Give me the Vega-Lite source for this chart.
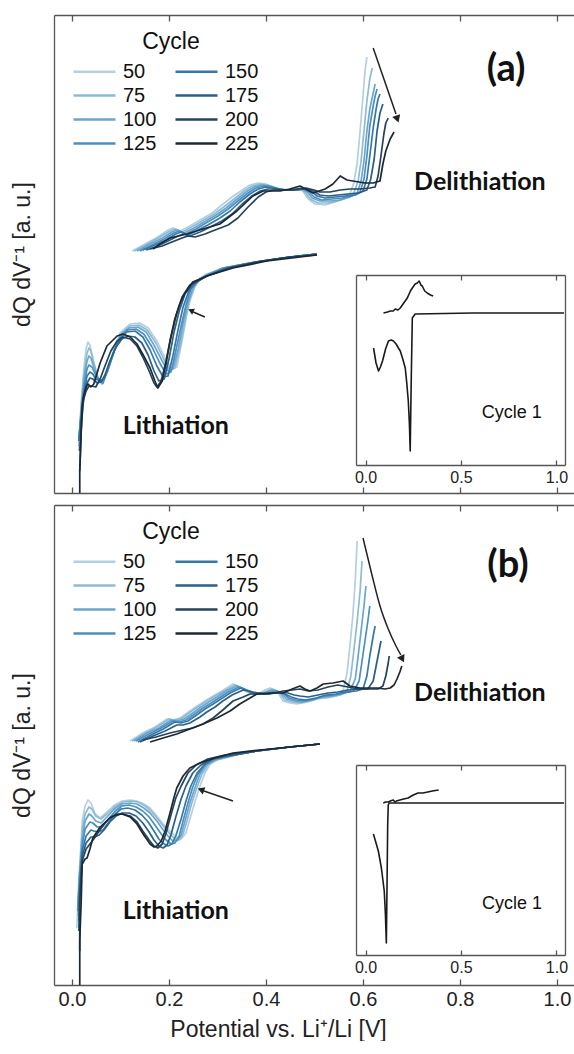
{
"$schema":"https://vega.github.io/schema/vega-lite/v6.json",
"background":"white",
"padding":{"left":11,"top":14,"right":0,"bottom":0},
"config":{"font":"Liberation Sans","view":{"stroke":null},"axis":{"grid":false,"domainColor":"#555","tickColor":"#555","domainWidth":1.3,"tickWidth":1.3,"labelColor":"#222","titleColor":"#222","titleFontWeight":"normal","labelFlush":false,"labelFont":"Liberation Sans","titleFont":"Liberation Sans"}},
"datasets":{
"main":[
{"p":"a","k":"d","c":50,"x":0.124,"y":242},{"p":"a","k":"d","c":50,"x":0.151,"y":249},{"p":"a","k":"d","c":50,"x":0.177,"y":256},{"p":"a","k":"d","c":50,"x":0.198,"y":263},{"p":"a","k":"d","c":50,"x":0.208,"y":265},{"p":"a","k":"d","c":50,"x":0.223,"y":262},{"p":"a","k":"d","c":50,"x":0.243,"y":267},{"p":"a","k":"d","c":50,"x":0.264,"y":273},{"p":"a","k":"d","c":50,"x":0.289,"y":280},{"p":"a","k":"d","c":50,"x":0.309,"y":288},{"p":"a","k":"d","c":50,"x":0.330,"y":296},{"p":"a","k":"d","c":50,"x":0.351,"y":303},{"p":"a","k":"d","c":50,"x":0.367,"y":308},{"p":"a","k":"d","c":50,"x":0.384,"y":310},{"p":"a","k":"d","c":50,"x":0.400,"y":309},{"p":"a","k":"d","c":50,"x":0.412,"y":306},{"p":"a","k":"d","c":50,"x":0.429,"y":303},{"p":"a","k":"d","c":50,"x":0.449,"y":303},{"p":"a","k":"d","c":50,"x":0.466,"y":305},{"p":"a","k":"d","c":50,"x":0.476,"y":302},{"p":"a","k":"d","c":50,"x":0.487,"y":294},{"p":"a","k":"d","c":50,"x":0.501,"y":289},{"p":"a","k":"d","c":50,"x":0.522,"y":288},{"p":"a","k":"d","c":50,"x":0.542,"y":291},{"p":"a","k":"d","c":50,"x":0.557,"y":294},{"p":"a","k":"d","c":50,"x":0.573,"y":299},{"p":"a","k":"d","c":50,"x":0.581,"y":310},{"p":"a","k":"d","c":50,"x":0.588,"y":330},{"p":"a","k":"d","c":50,"x":0.594,"y":362},{"p":"a","k":"d","c":50,"x":0.600,"y":397},{"p":"a","k":"d","c":50,"x":0.604,"y":422},{"p":"a","k":"d","c":50,"x":0.608,"y":436},
{"p":"a","k":"d","c":75,"x":0.128,"y":242},{"p":"a","k":"d","c":75,"x":0.155,"y":249},{"p":"a","k":"d","c":75,"x":0.181,"y":256},{"p":"a","k":"d","c":75,"x":0.202,"y":262},{"p":"a","k":"d","c":75,"x":0.212,"y":264},{"p":"a","k":"d","c":75,"x":0.227,"y":261},{"p":"a","k":"d","c":75,"x":0.247,"y":266},{"p":"a","k":"d","c":75,"x":0.268,"y":272},{"p":"a","k":"d","c":75,"x":0.293,"y":279},{"p":"a","k":"d","c":75,"x":0.313,"y":286},{"p":"a","k":"d","c":75,"x":0.334,"y":294},{"p":"a","k":"d","c":75,"x":0.355,"y":302},{"p":"a","k":"d","c":75,"x":0.371,"y":307},{"p":"a","k":"d","c":75,"x":0.388,"y":309},{"p":"a","k":"d","c":75,"x":0.404,"y":308},{"p":"a","k":"d","c":75,"x":0.416,"y":306},{"p":"a","k":"d","c":75,"x":0.433,"y":303},{"p":"a","k":"d","c":75,"x":0.454,"y":303},{"p":"a","k":"d","c":75,"x":0.470,"y":305},{"p":"a","k":"d","c":75,"x":0.480,"y":301},{"p":"a","k":"d","c":75,"x":0.491,"y":294},{"p":"a","k":"d","c":75,"x":0.507,"y":290},{"p":"a","k":"d","c":75,"x":0.528,"y":290},{"p":"a","k":"d","c":75,"x":0.548,"y":292},{"p":"a","k":"d","c":75,"x":0.565,"y":295},{"p":"a","k":"d","c":75,"x":0.581,"y":300},{"p":"a","k":"d","c":75,"x":0.590,"y":312},{"p":"a","k":"d","c":75,"x":0.596,"y":332},{"p":"a","k":"d","c":75,"x":0.602,"y":362},{"p":"a","k":"d","c":75,"x":0.608,"y":392},{"p":"a","k":"d","c":75,"x":0.614,"y":414},{"p":"a","k":"d","c":75,"x":0.619,"y":425},
{"p":"a","k":"d","c":100,"x":0.134,"y":242},{"p":"a","k":"d","c":100,"x":0.161,"y":249},{"p":"a","k":"d","c":100,"x":0.186,"y":255},{"p":"a","k":"d","c":100,"x":0.206,"y":261},{"p":"a","k":"d","c":100,"x":0.216,"y":263},{"p":"a","k":"d","c":100,"x":0.231,"y":260},{"p":"a","k":"d","c":100,"x":0.252,"y":265},{"p":"a","k":"d","c":100,"x":0.272,"y":271},{"p":"a","k":"d","c":100,"x":0.297,"y":278},{"p":"a","k":"d","c":100,"x":0.318,"y":285},{"p":"a","k":"d","c":100,"x":0.338,"y":293},{"p":"a","k":"d","c":100,"x":0.359,"y":301},{"p":"a","k":"d","c":100,"x":0.375,"y":306},{"p":"a","k":"d","c":100,"x":0.392,"y":308},{"p":"a","k":"d","c":100,"x":0.408,"y":307},{"p":"a","k":"d","c":100,"x":0.421,"y":305},{"p":"a","k":"d","c":100,"x":0.437,"y":303},{"p":"a","k":"d","c":100,"x":0.458,"y":303},{"p":"a","k":"d","c":100,"x":0.474,"y":304},{"p":"a","k":"d","c":100,"x":0.485,"y":301},{"p":"a","k":"d","c":100,"x":0.495,"y":295},{"p":"a","k":"d","c":100,"x":0.511,"y":292},{"p":"a","k":"d","c":100,"x":0.532,"y":292},{"p":"a","k":"d","c":100,"x":0.553,"y":293},{"p":"a","k":"d","c":100,"x":0.573,"y":296},{"p":"a","k":"d","c":100,"x":0.588,"y":300},{"p":"a","k":"d","c":100,"x":0.596,"y":312},{"p":"a","k":"d","c":100,"x":0.602,"y":332},{"p":"a","k":"d","c":100,"x":0.608,"y":362},{"p":"a","k":"d","c":100,"x":0.614,"y":384},{"p":"a","k":"d","c":100,"x":0.621,"y":400},{"p":"a","k":"d","c":100,"x":0.625,"y":409},
{"p":"a","k":"d","c":125,"x":0.140,"y":242},{"p":"a","k":"d","c":125,"x":0.165,"y":248},{"p":"a","k":"d","c":125,"x":0.190,"y":254},{"p":"a","k":"d","c":125,"x":0.210,"y":260},{"p":"a","k":"d","c":125,"x":0.221,"y":262},{"p":"a","k":"d","c":125,"x":0.235,"y":259},{"p":"a","k":"d","c":125,"x":0.256,"y":264},{"p":"a","k":"d","c":125,"x":0.276,"y":270},{"p":"a","k":"d","c":125,"x":0.301,"y":277},{"p":"a","k":"d","c":125,"x":0.322,"y":284},{"p":"a","k":"d","c":125,"x":0.342,"y":292},{"p":"a","k":"d","c":125,"x":0.363,"y":300},{"p":"a","k":"d","c":125,"x":0.379,"y":305},{"p":"a","k":"d","c":125,"x":0.396,"y":307},{"p":"a","k":"d","c":125,"x":0.412,"y":306},{"p":"a","k":"d","c":125,"x":0.425,"y":304},{"p":"a","k":"d","c":125,"x":0.441,"y":303},{"p":"a","k":"d","c":125,"x":0.462,"y":303},{"p":"a","k":"d","c":125,"x":0.478,"y":304},{"p":"a","k":"d","c":125,"x":0.489,"y":301},{"p":"a","k":"d","c":125,"x":0.499,"y":296},{"p":"a","k":"d","c":125,"x":0.515,"y":293},{"p":"a","k":"d","c":125,"x":0.536,"y":294},{"p":"a","k":"d","c":125,"x":0.557,"y":295},{"p":"a","k":"d","c":125,"x":0.577,"y":297},{"p":"a","k":"d","c":125,"x":0.594,"y":301},{"p":"a","k":"d","c":125,"x":0.602,"y":314},{"p":"a","k":"d","c":125,"x":0.608,"y":337},{"p":"a","k":"d","c":125,"x":0.614,"y":367},{"p":"a","k":"d","c":125,"x":0.621,"y":387},{"p":"a","k":"d","c":125,"x":0.625,"y":397},{"p":"a","k":"d","c":125,"x":0.629,"y":404},
{"p":"a","k":"d","c":150,"x":0.146,"y":243},{"p":"a","k":"d","c":150,"x":0.171,"y":248},{"p":"a","k":"d","c":150,"x":0.194,"y":253},{"p":"a","k":"d","c":150,"x":0.214,"y":259},{"p":"a","k":"d","c":150,"x":0.225,"y":261},{"p":"a","k":"d","c":150,"x":0.239,"y":258},{"p":"a","k":"d","c":150,"x":0.260,"y":263},{"p":"a","k":"d","c":150,"x":0.280,"y":268},{"p":"a","k":"d","c":150,"x":0.305,"y":275},{"p":"a","k":"d","c":150,"x":0.326,"y":282},{"p":"a","k":"d","c":150,"x":0.346,"y":291},{"p":"a","k":"d","c":150,"x":0.367,"y":299},{"p":"a","k":"d","c":150,"x":0.384,"y":304},{"p":"a","k":"d","c":150,"x":0.400,"y":306},{"p":"a","k":"d","c":150,"x":0.416,"y":305},{"p":"a","k":"d","c":150,"x":0.429,"y":304},{"p":"a","k":"d","c":150,"x":0.445,"y":303},{"p":"a","k":"d","c":150,"x":0.466,"y":303},{"p":"a","k":"d","c":150,"x":0.482,"y":304},{"p":"a","k":"d","c":150,"x":0.493,"y":302},{"p":"a","k":"d","c":150,"x":0.505,"y":297},{"p":"a","k":"d","c":150,"x":0.522,"y":295},{"p":"a","k":"d","c":150,"x":0.542,"y":296},{"p":"a","k":"d","c":150,"x":0.563,"y":297},{"p":"a","k":"d","c":150,"x":0.584,"y":298},{"p":"a","k":"d","c":150,"x":0.600,"y":302},{"p":"a","k":"d","c":150,"x":0.608,"y":314},{"p":"a","k":"d","c":150,"x":0.614,"y":337},{"p":"a","k":"d","c":150,"x":0.621,"y":365},{"p":"a","k":"d","c":150,"x":0.627,"y":384},{"p":"a","k":"d","c":150,"x":0.631,"y":394},{"p":"a","k":"d","c":150,"x":0.635,"y":399},
{"p":"a","k":"d","c":175,"x":0.153,"y":243},{"p":"a","k":"d","c":175,"x":0.177,"y":247},{"p":"a","k":"d","c":175,"x":0.198,"y":252},{"p":"a","k":"d","c":175,"x":0.219,"y":257},{"p":"a","k":"d","c":175,"x":0.229,"y":259},{"p":"a","k":"d","c":175,"x":0.243,"y":257},{"p":"a","k":"d","c":175,"x":0.264,"y":261},{"p":"a","k":"d","c":175,"x":0.285,"y":266},{"p":"a","k":"d","c":175,"x":0.309,"y":272},{"p":"a","k":"d","c":175,"x":0.330,"y":279},{"p":"a","k":"d","c":175,"x":0.351,"y":289},{"p":"a","k":"d","c":175,"x":0.371,"y":297},{"p":"a","k":"d","c":175,"x":0.388,"y":302},{"p":"a","k":"d","c":175,"x":0.404,"y":304},{"p":"a","k":"d","c":175,"x":0.421,"y":304},{"p":"a","k":"d","c":175,"x":0.437,"y":303},{"p":"a","k":"d","c":175,"x":0.454,"y":303},{"p":"a","k":"d","c":175,"x":0.470,"y":304},{"p":"a","k":"d","c":175,"x":0.487,"y":304},{"p":"a","k":"d","c":175,"x":0.497,"y":302},{"p":"a","k":"d","c":175,"x":0.511,"y":298},{"p":"a","k":"d","c":175,"x":0.528,"y":297},{"p":"a","k":"d","c":175,"x":0.548,"y":298},{"p":"a","k":"d","c":175,"x":0.569,"y":299},{"p":"a","k":"d","c":175,"x":0.590,"y":300},{"p":"a","k":"d","c":175,"x":0.608,"y":303},{"p":"a","k":"d","c":175,"x":0.616,"y":314},{"p":"a","k":"d","c":175,"x":0.623,"y":334},{"p":"a","k":"d","c":175,"x":0.629,"y":362},{"p":"a","k":"d","c":175,"x":0.635,"y":380},{"p":"a","k":"d","c":175,"x":0.641,"y":389},
{"p":"a","k":"d","c":200,"x":0.161,"y":244},{"p":"a","k":"d","c":200,"x":0.186,"y":247},{"p":"a","k":"d","c":200,"x":0.206,"y":251},{"p":"a","k":"d","c":200,"x":0.227,"y":255},{"p":"a","k":"d","c":200,"x":0.239,"y":257},{"p":"a","k":"d","c":200,"x":0.254,"y":256},{"p":"a","k":"d","c":200,"x":0.274,"y":259},{"p":"a","k":"d","c":200,"x":0.295,"y":263},{"p":"a","k":"d","c":200,"x":0.322,"y":268},{"p":"a","k":"d","c":200,"x":0.342,"y":275},{"p":"a","k":"d","c":200,"x":0.363,"y":286},{"p":"a","k":"d","c":200,"x":0.384,"y":296},{"p":"a","k":"d","c":200,"x":0.400,"y":301},{"p":"a","k":"d","c":200,"x":0.416,"y":303},{"p":"a","k":"d","c":200,"x":0.433,"y":303},{"p":"a","k":"d","c":200,"x":0.449,"y":303},{"p":"a","k":"d","c":200,"x":0.466,"y":304},{"p":"a","k":"d","c":200,"x":0.482,"y":305},{"p":"a","k":"d","c":200,"x":0.499,"y":303},{"p":"a","k":"d","c":200,"x":0.511,"y":301},{"p":"a","k":"d","c":200,"x":0.532,"y":301},{"p":"a","k":"d","c":200,"x":0.553,"y":303},{"p":"a","k":"d","c":200,"x":0.573,"y":304},{"p":"a","k":"d","c":200,"x":0.594,"y":304},{"p":"a","k":"d","c":200,"x":0.614,"y":305},{"p":"a","k":"d","c":200,"x":0.625,"y":306},{"p":"a","k":"d","c":200,"x":0.631,"y":317},{"p":"a","k":"d","c":200,"x":0.637,"y":337},{"p":"a","k":"d","c":200,"x":0.643,"y":359},{"p":"a","k":"d","c":200,"x":0.647,"y":370},{"p":"a","k":"d","c":200,"x":0.652,"y":375},
{"p":"a","k":"d","c":225,"x":0.167,"y":244},{"p":"a","k":"d","c":225,"x":0.181,"y":249},{"p":"a","k":"d","c":225,"x":0.202,"y":255},{"p":"a","k":"d","c":225,"x":0.237,"y":259},{"p":"a","k":"d","c":225,"x":0.270,"y":264},{"p":"a","k":"d","c":225,"x":0.305,"y":269},{"p":"a","k":"d","c":225,"x":0.340,"y":282},{"p":"a","k":"d","c":225,"x":0.373,"y":297},{"p":"a","k":"d","c":225,"x":0.394,"y":302},{"p":"a","k":"d","c":225,"x":0.429,"y":302},{"p":"a","k":"d","c":225,"x":0.449,"y":304},{"p":"a","k":"d","c":225,"x":0.470,"y":307},{"p":"a","k":"d","c":225,"x":0.497,"y":300},{"p":"a","k":"d","c":225,"x":0.522,"y":304},{"p":"a","k":"d","c":225,"x":0.538,"y":309},{"p":"a","k":"d","c":225,"x":0.553,"y":317},{"p":"a","k":"d","c":225,"x":0.567,"y":313},{"p":"a","k":"d","c":225,"x":0.579,"y":312},{"p":"a","k":"d","c":225,"x":0.604,"y":310},{"p":"a","k":"d","c":225,"x":0.621,"y":310},{"p":"a","k":"d","c":225,"x":0.635,"y":312},{"p":"a","k":"d","c":225,"x":0.641,"y":329},{"p":"a","k":"d","c":225,"x":0.647,"y":342},{"p":"a","k":"d","c":225,"x":0.656,"y":354},{"p":"a","k":"d","c":225,"x":0.664,"y":361},
{"p":"a","k":"l","c":50,"x":0.014,"y":42},{"p":"a","k":"l","c":50,"x":0.019,"y":92},{"p":"a","k":"l","c":50,"x":0.025,"y":127},{"p":"a","k":"l","c":50,"x":0.029,"y":144},{"p":"a","k":"l","c":50,"x":0.033,"y":151},{"p":"a","k":"l","c":50,"x":0.037,"y":148},{"p":"a","k":"l","c":50,"x":0.043,"y":134},{"p":"a","k":"l","c":50,"x":0.052,"y":117},{"p":"a","k":"l","c":50,"x":0.062,"y":109},{"p":"a","k":"l","c":50,"x":0.072,"y":120},{"p":"a","k":"l","c":50,"x":0.085,"y":142},{"p":"a","k":"l","c":50,"x":0.099,"y":160},{"p":"a","k":"l","c":50,"x":0.120,"y":169},{"p":"a","k":"l","c":50,"x":0.140,"y":170},{"p":"a","k":"l","c":50,"x":0.157,"y":165},{"p":"a","k":"l","c":50,"x":0.175,"y":152},{"p":"a","k":"l","c":50,"x":0.192,"y":135},{"p":"a","k":"l","c":50,"x":0.206,"y":124},{"p":"a","k":"l","c":50,"x":0.216,"y":126},{"p":"a","k":"l","c":50,"x":0.227,"y":152},{"p":"a","k":"l","c":50,"x":0.235,"y":174},{"p":"a","k":"l","c":50,"x":0.243,"y":192},{"p":"a","k":"l","c":50,"x":0.254,"y":207},{"p":"a","k":"l","c":50,"x":0.264,"y":215},{"p":"a","k":"l","c":50,"x":0.278,"y":219},{"p":"a","k":"l","c":50,"x":0.311,"y":225},{"p":"a","k":"l","c":50,"x":0.367,"y":230},{"p":"a","k":"l","c":50,"x":0.435,"y":235},{"p":"a","k":"l","c":50,"x":0.505,"y":239},
{"p":"a","k":"l","c":75,"x":0.014,"y":47},{"p":"a","k":"l","c":75,"x":0.019,"y":87},{"p":"a","k":"l","c":75,"x":0.025,"y":120},{"p":"a","k":"l","c":75,"x":0.031,"y":140},{"p":"a","k":"l","c":75,"x":0.035,"y":145},{"p":"a","k":"l","c":75,"x":0.039,"y":142},{"p":"a","k":"l","c":75,"x":0.045,"y":130},{"p":"a","k":"l","c":75,"x":0.054,"y":115},{"p":"a","k":"l","c":75,"x":0.062,"y":109},{"p":"a","k":"l","c":75,"x":0.074,"y":122},{"p":"a","k":"l","c":75,"x":0.087,"y":142},{"p":"a","k":"l","c":75,"x":0.101,"y":159},{"p":"a","k":"l","c":75,"x":0.120,"y":167},{"p":"a","k":"l","c":75,"x":0.138,"y":168},{"p":"a","k":"l","c":75,"x":0.155,"y":163},{"p":"a","k":"l","c":75,"x":0.173,"y":150},{"p":"a","k":"l","c":75,"x":0.190,"y":133},{"p":"a","k":"l","c":75,"x":0.202,"y":123},{"p":"a","k":"l","c":75,"x":0.212,"y":125},{"p":"a","k":"l","c":75,"x":0.223,"y":147},{"p":"a","k":"l","c":75,"x":0.233,"y":172},{"p":"a","k":"l","c":75,"x":0.241,"y":191},{"p":"a","k":"l","c":75,"x":0.252,"y":206},{"p":"a","k":"l","c":75,"x":0.264,"y":214},{"p":"a","k":"l","c":75,"x":0.278,"y":218},{"p":"a","k":"l","c":75,"x":0.311,"y":225},{"p":"a","k":"l","c":75,"x":0.367,"y":230},{"p":"a","k":"l","c":75,"x":0.435,"y":235},{"p":"a","k":"l","c":75,"x":0.505,"y":239},
{"p":"a","k":"l","c":100,"x":0.014,"y":52},{"p":"a","k":"l","c":100,"x":0.019,"y":82},{"p":"a","k":"l","c":100,"x":0.025,"y":114},{"p":"a","k":"l","c":100,"x":0.031,"y":132},{"p":"a","k":"l","c":100,"x":0.035,"y":137},{"p":"a","k":"l","c":100,"x":0.039,"y":135},{"p":"a","k":"l","c":100,"x":0.045,"y":126},{"p":"a","k":"l","c":100,"x":0.054,"y":114},{"p":"a","k":"l","c":100,"x":0.062,"y":110},{"p":"a","k":"l","c":100,"x":0.074,"y":123},{"p":"a","k":"l","c":100,"x":0.087,"y":142},{"p":"a","k":"l","c":100,"x":0.101,"y":158},{"p":"a","k":"l","c":100,"x":0.118,"y":165},{"p":"a","k":"l","c":100,"x":0.136,"y":166},{"p":"a","k":"l","c":100,"x":0.153,"y":161},{"p":"a","k":"l","c":100,"x":0.169,"y":148},{"p":"a","k":"l","c":100,"x":0.186,"y":132},{"p":"a","k":"l","c":100,"x":0.198,"y":122},{"p":"a","k":"l","c":100,"x":0.208,"y":124},{"p":"a","k":"l","c":100,"x":0.219,"y":144},{"p":"a","k":"l","c":100,"x":0.229,"y":170},{"p":"a","k":"l","c":100,"x":0.239,"y":190},{"p":"a","k":"l","c":100,"x":0.249,"y":205},{"p":"a","k":"l","c":100,"x":0.262,"y":213},{"p":"a","k":"l","c":100,"x":0.278,"y":218},{"p":"a","k":"l","c":100,"x":0.311,"y":225},{"p":"a","k":"l","c":100,"x":0.367,"y":230},{"p":"a","k":"l","c":100,"x":0.435,"y":235},{"p":"a","k":"l","c":100,"x":0.505,"y":239},
{"p":"a","k":"l","c":125,"x":0.014,"y":54},{"p":"a","k":"l","c":125,"x":0.019,"y":80},{"p":"a","k":"l","c":125,"x":0.025,"y":108},{"p":"a","k":"l","c":125,"x":0.031,"y":124},{"p":"a","k":"l","c":125,"x":0.035,"y":128},{"p":"a","k":"l","c":125,"x":0.041,"y":126},{"p":"a","k":"l","c":125,"x":0.047,"y":120},{"p":"a","k":"l","c":125,"x":0.056,"y":112},{"p":"a","k":"l","c":125,"x":0.064,"y":110},{"p":"a","k":"l","c":125,"x":0.074,"y":124},{"p":"a","k":"l","c":125,"x":0.087,"y":142},{"p":"a","k":"l","c":125,"x":0.099,"y":156},{"p":"a","k":"l","c":125,"x":0.115,"y":163},{"p":"a","k":"l","c":125,"x":0.132,"y":164},{"p":"a","k":"l","c":125,"x":0.148,"y":159},{"p":"a","k":"l","c":125,"x":0.165,"y":146},{"p":"a","k":"l","c":125,"x":0.181,"y":130},{"p":"a","k":"l","c":125,"x":0.194,"y":119},{"p":"a","k":"l","c":125,"x":0.204,"y":121},{"p":"a","k":"l","c":125,"x":0.214,"y":142},{"p":"a","k":"l","c":125,"x":0.225,"y":167},{"p":"a","k":"l","c":125,"x":0.235,"y":188},{"p":"a","k":"l","c":125,"x":0.245,"y":204},{"p":"a","k":"l","c":125,"x":0.260,"y":212},{"p":"a","k":"l","c":125,"x":0.278,"y":218},{"p":"a","k":"l","c":125,"x":0.315,"y":225},{"p":"a","k":"l","c":125,"x":0.367,"y":230},{"p":"a","k":"l","c":125,"x":0.435,"y":235},{"p":"a","k":"l","c":125,"x":0.505,"y":239},
{"p":"a","k":"l","c":150,"x":0.014,"y":52},{"p":"a","k":"l","c":150,"x":0.019,"y":77},{"p":"a","k":"l","c":150,"x":0.025,"y":102},{"p":"a","k":"l","c":150,"x":0.031,"y":117},{"p":"a","k":"l","c":150,"x":0.037,"y":121},{"p":"a","k":"l","c":150,"x":0.043,"y":119},{"p":"a","k":"l","c":150,"x":0.049,"y":114},{"p":"a","k":"l","c":150,"x":0.058,"y":112},{"p":"a","k":"l","c":150,"x":0.066,"y":114},{"p":"a","k":"l","c":150,"x":0.076,"y":127},{"p":"a","k":"l","c":150,"x":0.087,"y":142},{"p":"a","k":"l","c":150,"x":0.099,"y":154},{"p":"a","k":"l","c":150,"x":0.113,"y":161},{"p":"a","k":"l","c":150,"x":0.130,"y":162},{"p":"a","k":"l","c":150,"x":0.146,"y":156},{"p":"a","k":"l","c":150,"x":0.161,"y":143},{"p":"a","k":"l","c":150,"x":0.175,"y":127},{"p":"a","k":"l","c":150,"x":0.188,"y":116},{"p":"a","k":"l","c":150,"x":0.198,"y":117},{"p":"a","k":"l","c":150,"x":0.208,"y":137},{"p":"a","k":"l","c":150,"x":0.219,"y":164},{"p":"a","k":"l","c":150,"x":0.229,"y":186},{"p":"a","k":"l","c":150,"x":0.241,"y":202},{"p":"a","k":"l","c":150,"x":0.256,"y":211},{"p":"a","k":"l","c":150,"x":0.278,"y":217},{"p":"a","k":"l","c":150,"x":0.318,"y":225},{"p":"a","k":"l","c":150,"x":0.377,"y":231},{"p":"a","k":"l","c":150,"x":0.449,"y":236},{"p":"a","k":"l","c":150,"x":0.505,"y":239},
{"p":"a","k":"l","c":175,"x":0.016,"y":42},{"p":"a","k":"l","c":175,"x":0.019,"y":72},{"p":"a","k":"l","c":175,"x":0.025,"y":97},{"p":"a","k":"l","c":175,"x":0.031,"y":110},{"p":"a","k":"l","c":175,"x":0.037,"y":115},{"p":"a","k":"l","c":175,"x":0.043,"y":114},{"p":"a","k":"l","c":175,"x":0.052,"y":110},{"p":"a","k":"l","c":175,"x":0.060,"y":111},{"p":"a","k":"l","c":175,"x":0.068,"y":118},{"p":"a","k":"l","c":175,"x":0.078,"y":132},{"p":"a","k":"l","c":175,"x":0.091,"y":146},{"p":"a","k":"l","c":175,"x":0.103,"y":154},{"p":"a","k":"l","c":175,"x":0.115,"y":157},{"p":"a","k":"l","c":175,"x":0.130,"y":156},{"p":"a","k":"l","c":175,"x":0.144,"y":150},{"p":"a","k":"l","c":175,"x":0.157,"y":138},{"p":"a","k":"l","c":175,"x":0.169,"y":122},{"p":"a","k":"l","c":175,"x":0.179,"y":112},{"p":"a","k":"l","c":175,"x":0.190,"y":114},{"p":"a","k":"l","c":175,"x":0.200,"y":134},{"p":"a","k":"l","c":175,"x":0.210,"y":160},{"p":"a","k":"l","c":175,"x":0.221,"y":182},{"p":"a","k":"l","c":175,"x":0.233,"y":199},{"p":"a","k":"l","c":175,"x":0.249,"y":209},{"p":"a","k":"l","c":175,"x":0.278,"y":217},{"p":"a","k":"l","c":175,"x":0.322,"y":225},{"p":"a","k":"l","c":175,"x":0.384,"y":231},{"p":"a","k":"l","c":175,"x":0.449,"y":236},{"p":"a","k":"l","c":175,"x":0.505,"y":239},
{"p":"a","k":"l","c":200,"x":0.016,"y":22},{"p":"a","k":"l","c":200,"x":0.019,"y":62},{"p":"a","k":"l","c":200,"x":0.023,"y":92},{"p":"a","k":"l","c":200,"x":0.029,"y":102},{"p":"a","k":"l","c":200,"x":0.035,"y":107},{"p":"a","k":"l","c":200,"x":0.041,"y":107},{"p":"a","k":"l","c":200,"x":0.049,"y":106},{"p":"a","k":"l","c":200,"x":0.058,"y":114},{"p":"a","k":"l","c":200,"x":0.068,"y":127},{"p":"a","k":"l","c":200,"x":0.080,"y":142},{"p":"a","k":"l","c":200,"x":0.093,"y":152},{"p":"a","k":"l","c":200,"x":0.105,"y":156},{"p":"a","k":"l","c":200,"x":0.120,"y":154},{"p":"a","k":"l","c":200,"x":0.134,"y":147},{"p":"a","k":"l","c":200,"x":0.146,"y":136},{"p":"a","k":"l","c":200,"x":0.159,"y":122},{"p":"a","k":"l","c":200,"x":0.169,"y":110},{"p":"a","k":"l","c":200,"x":0.175,"y":106},{"p":"a","k":"l","c":200,"x":0.184,"y":112},{"p":"a","k":"l","c":200,"x":0.194,"y":132},{"p":"a","k":"l","c":200,"x":0.204,"y":156},{"p":"a","k":"l","c":200,"x":0.216,"y":180},{"p":"a","k":"l","c":200,"x":0.227,"y":196},{"p":"a","k":"l","c":200,"x":0.243,"y":208},{"p":"a","k":"l","c":200,"x":0.278,"y":217},{"p":"a","k":"l","c":200,"x":0.326,"y":225},{"p":"a","k":"l","c":200,"x":0.392,"y":232},{"p":"a","k":"l","c":200,"x":0.449,"y":236},{"p":"a","k":"l","c":200,"x":0.505,"y":238},
{"p":"a","k":"l","c":225,"x":0.016,"y":0},{"p":"a","k":"l","c":225,"x":0.016,"y":22},{"p":"a","k":"l","c":225,"x":0.019,"y":62},{"p":"a","k":"l","c":225,"x":0.021,"y":87},{"p":"a","k":"l","c":225,"x":0.023,"y":95},{"p":"a","k":"l","c":225,"x":0.029,"y":106},{"p":"a","k":"l","c":225,"x":0.033,"y":109},{"p":"a","k":"l","c":225,"x":0.039,"y":106},{"p":"a","k":"l","c":225,"x":0.045,"y":109},{"p":"a","k":"l","c":225,"x":0.058,"y":130},{"p":"a","k":"l","c":225,"x":0.072,"y":147},{"p":"a","k":"l","c":225,"x":0.093,"y":157},{"p":"a","k":"l","c":225,"x":0.105,"y":159},{"p":"a","k":"l","c":225,"x":0.120,"y":156},{"p":"a","k":"l","c":225,"x":0.134,"y":149},{"p":"a","k":"l","c":225,"x":0.148,"y":137},{"p":"a","k":"l","c":225,"x":0.161,"y":125},{"p":"a","k":"l","c":225,"x":0.171,"y":112},{"p":"a","k":"l","c":225,"x":0.177,"y":105},{"p":"a","k":"l","c":225,"x":0.186,"y":112},{"p":"a","k":"l","c":225,"x":0.194,"y":130},{"p":"a","k":"l","c":225,"x":0.202,"y":152},{"p":"a","k":"l","c":225,"x":0.212,"y":174},{"p":"a","k":"l","c":225,"x":0.223,"y":190},{"p":"a","k":"l","c":225,"x":0.233,"y":200},{"p":"a","k":"l","c":225,"x":0.249,"y":211},{"p":"a","k":"l","c":225,"x":0.278,"y":217},{"p":"a","k":"l","c":225,"x":0.332,"y":225},{"p":"a","k":"l","c":225,"x":0.402,"y":232},{"p":"a","k":"l","c":225,"x":0.505,"y":238},
{"p":"b","k":"d","c":50,"x":0.120,"y":244},{"p":"b","k":"d","c":50,"x":0.146,"y":252},{"p":"b","k":"d","c":50,"x":0.171,"y":258},{"p":"b","k":"d","c":50,"x":0.196,"y":266},{"p":"b","k":"d","c":50,"x":0.208,"y":265},{"p":"b","k":"d","c":50,"x":0.223,"y":267},{"p":"b","k":"d","c":50,"x":0.243,"y":274},{"p":"b","k":"d","c":50,"x":0.258,"y":279},{"p":"b","k":"d","c":50,"x":0.274,"y":284},{"p":"b","k":"d","c":50,"x":0.291,"y":289},{"p":"b","k":"d","c":50,"x":0.309,"y":294},{"p":"b","k":"d","c":50,"x":0.332,"y":301},{"p":"b","k":"d","c":50,"x":0.342,"y":299},{"p":"b","k":"d","c":50,"x":0.357,"y":294},{"p":"b","k":"d","c":50,"x":0.367,"y":292},{"p":"b","k":"d","c":50,"x":0.384,"y":291},{"p":"b","k":"d","c":50,"x":0.398,"y":295},{"p":"b","k":"d","c":50,"x":0.408,"y":297},{"p":"b","k":"d","c":50,"x":0.423,"y":294},{"p":"b","k":"d","c":50,"x":0.435,"y":284},{"p":"b","k":"d","c":50,"x":0.449,"y":282},{"p":"b","k":"d","c":50,"x":0.464,"y":281},{"p":"b","k":"d","c":50,"x":0.485,"y":283},{"p":"b","k":"d","c":50,"x":0.505,"y":286},{"p":"b","k":"d","c":50,"x":0.526,"y":287},{"p":"b","k":"d","c":50,"x":0.546,"y":289},{"p":"b","k":"d","c":50,"x":0.559,"y":294},{"p":"b","k":"d","c":50,"x":0.567,"y":312},{"p":"b","k":"d","c":50,"x":0.573,"y":339},{"p":"b","k":"d","c":50,"x":0.579,"y":369},{"p":"b","k":"d","c":50,"x":0.584,"y":404},{"p":"b","k":"d","c":50,"x":0.588,"y":444},
{"p":"b","k":"d","c":75,"x":0.124,"y":244},{"p":"b","k":"d","c":75,"x":0.151,"y":252},{"p":"b","k":"d","c":75,"x":0.175,"y":258},{"p":"b","k":"d","c":75,"x":0.200,"y":266},{"p":"b","k":"d","c":75,"x":0.212,"y":265},{"p":"b","k":"d","c":75,"x":0.227,"y":267},{"p":"b","k":"d","c":75,"x":0.247,"y":274},{"p":"b","k":"d","c":75,"x":0.262,"y":279},{"p":"b","k":"d","c":75,"x":0.278,"y":284},{"p":"b","k":"d","c":75,"x":0.295,"y":289},{"p":"b","k":"d","c":75,"x":0.313,"y":294},{"p":"b","k":"d","c":75,"x":0.336,"y":300},{"p":"b","k":"d","c":75,"x":0.346,"y":298},{"p":"b","k":"d","c":75,"x":0.361,"y":294},{"p":"b","k":"d","c":75,"x":0.371,"y":292},{"p":"b","k":"d","c":75,"x":0.388,"y":291},{"p":"b","k":"d","c":75,"x":0.402,"y":294},{"p":"b","k":"d","c":75,"x":0.412,"y":296},{"p":"b","k":"d","c":75,"x":0.427,"y":293},{"p":"b","k":"d","c":75,"x":0.439,"y":285},{"p":"b","k":"d","c":75,"x":0.454,"y":283},{"p":"b","k":"d","c":75,"x":0.470,"y":282},{"p":"b","k":"d","c":75,"x":0.491,"y":284},{"p":"b","k":"d","c":75,"x":0.511,"y":287},{"p":"b","k":"d","c":75,"x":0.532,"y":288},{"p":"b","k":"d","c":75,"x":0.553,"y":290},{"p":"b","k":"d","c":75,"x":0.567,"y":294},{"p":"b","k":"d","c":75,"x":0.575,"y":309},{"p":"b","k":"d","c":75,"x":0.581,"y":334},{"p":"b","k":"d","c":75,"x":0.588,"y":364},{"p":"b","k":"d","c":75,"x":0.594,"y":394},{"p":"b","k":"d","c":75,"x":0.598,"y":424},
{"p":"b","k":"d","c":100,"x":0.128,"y":244},{"p":"b","k":"d","c":100,"x":0.155,"y":252},{"p":"b","k":"d","c":100,"x":0.179,"y":257},{"p":"b","k":"d","c":100,"x":0.204,"y":265},{"p":"b","k":"d","c":100,"x":0.216,"y":264},{"p":"b","k":"d","c":100,"x":0.231,"y":266},{"p":"b","k":"d","c":100,"x":0.252,"y":273},{"p":"b","k":"d","c":100,"x":0.266,"y":278},{"p":"b","k":"d","c":100,"x":0.282,"y":283},{"p":"b","k":"d","c":100,"x":0.299,"y":288},{"p":"b","k":"d","c":100,"x":0.318,"y":294},{"p":"b","k":"d","c":100,"x":0.340,"y":299},{"p":"b","k":"d","c":100,"x":0.351,"y":297},{"p":"b","k":"d","c":100,"x":0.365,"y":293},{"p":"b","k":"d","c":100,"x":0.375,"y":292},{"p":"b","k":"d","c":100,"x":0.392,"y":291},{"p":"b","k":"d","c":100,"x":0.406,"y":294},{"p":"b","k":"d","c":100,"x":0.416,"y":295},{"p":"b","k":"d","c":100,"x":0.431,"y":292},{"p":"b","k":"d","c":100,"x":0.443,"y":286},{"p":"b","k":"d","c":100,"x":0.458,"y":284},{"p":"b","k":"d","c":100,"x":0.474,"y":283},{"p":"b","k":"d","c":100,"x":0.495,"y":285},{"p":"b","k":"d","c":100,"x":0.515,"y":288},{"p":"b","k":"d","c":100,"x":0.536,"y":289},{"p":"b","k":"d","c":100,"x":0.557,"y":291},{"p":"b","k":"d","c":100,"x":0.573,"y":294},{"p":"b","k":"d","c":100,"x":0.584,"y":306},{"p":"b","k":"d","c":100,"x":0.590,"y":329},{"p":"b","k":"d","c":100,"x":0.596,"y":354},{"p":"b","k":"d","c":100,"x":0.602,"y":379},{"p":"b","k":"d","c":100,"x":0.606,"y":399},
{"p":"b","k":"d","c":125,"x":0.132,"y":244},{"p":"b","k":"d","c":125,"x":0.159,"y":251},{"p":"b","k":"d","c":125,"x":0.184,"y":257},{"p":"b","k":"d","c":125,"x":0.208,"y":264},{"p":"b","k":"d","c":125,"x":0.221,"y":263},{"p":"b","k":"d","c":125,"x":0.235,"y":265},{"p":"b","k":"d","c":125,"x":0.256,"y":272},{"p":"b","k":"d","c":125,"x":0.270,"y":277},{"p":"b","k":"d","c":125,"x":0.287,"y":282},{"p":"b","k":"d","c":125,"x":0.303,"y":287},{"p":"b","k":"d","c":125,"x":0.322,"y":293},{"p":"b","k":"d","c":125,"x":0.344,"y":298},{"p":"b","k":"d","c":125,"x":0.355,"y":296},{"p":"b","k":"d","c":125,"x":0.369,"y":293},{"p":"b","k":"d","c":125,"x":0.379,"y":292},{"p":"b","k":"d","c":125,"x":0.396,"y":291},{"p":"b","k":"d","c":125,"x":0.410,"y":293},{"p":"b","k":"d","c":125,"x":0.421,"y":294},{"p":"b","k":"d","c":125,"x":0.435,"y":292},{"p":"b","k":"d","c":125,"x":0.447,"y":287},{"p":"b","k":"d","c":125,"x":0.462,"y":285},{"p":"b","k":"d","c":125,"x":0.478,"y":284},{"p":"b","k":"d","c":125,"x":0.499,"y":286},{"p":"b","k":"d","c":125,"x":0.520,"y":289},{"p":"b","k":"d","c":125,"x":0.540,"y":290},{"p":"b","k":"d","c":125,"x":0.561,"y":292},{"p":"b","k":"d","c":125,"x":0.581,"y":294},{"p":"b","k":"d","c":125,"x":0.592,"y":304},{"p":"b","k":"d","c":125,"x":0.598,"y":324},{"p":"b","k":"d","c":125,"x":0.604,"y":344},{"p":"b","k":"d","c":125,"x":0.610,"y":364},{"p":"b","k":"d","c":125,"x":0.614,"y":379},
{"p":"b","k":"d","c":150,"x":0.136,"y":243},{"p":"b","k":"d","c":150,"x":0.163,"y":250},{"p":"b","k":"d","c":150,"x":0.188,"y":256},{"p":"b","k":"d","c":150,"x":0.212,"y":263},{"p":"b","k":"d","c":150,"x":0.225,"y":262},{"p":"b","k":"d","c":150,"x":0.239,"y":264},{"p":"b","k":"d","c":150,"x":0.260,"y":271},{"p":"b","k":"d","c":150,"x":0.274,"y":276},{"p":"b","k":"d","c":150,"x":0.291,"y":281},{"p":"b","k":"d","c":150,"x":0.307,"y":286},{"p":"b","k":"d","c":150,"x":0.326,"y":292},{"p":"b","k":"d","c":150,"x":0.348,"y":297},{"p":"b","k":"d","c":150,"x":0.359,"y":295},{"p":"b","k":"d","c":150,"x":0.373,"y":293},{"p":"b","k":"d","c":150,"x":0.384,"y":292},{"p":"b","k":"d","c":150,"x":0.400,"y":291},{"p":"b","k":"d","c":150,"x":0.414,"y":292},{"p":"b","k":"d","c":150,"x":0.425,"y":293},{"p":"b","k":"d","c":150,"x":0.439,"y":291},{"p":"b","k":"d","c":150,"x":0.452,"y":288},{"p":"b","k":"d","c":150,"x":0.466,"y":286},{"p":"b","k":"d","c":150,"x":0.482,"y":285},{"p":"b","k":"d","c":150,"x":0.503,"y":287},{"p":"b","k":"d","c":150,"x":0.524,"y":290},{"p":"b","k":"d","c":150,"x":0.544,"y":291},{"p":"b","k":"d","c":150,"x":0.565,"y":293},{"p":"b","k":"d","c":150,"x":0.586,"y":294},{"p":"b","k":"d","c":150,"x":0.600,"y":296},{"p":"b","k":"d","c":150,"x":0.608,"y":309},{"p":"b","k":"d","c":150,"x":0.614,"y":329},{"p":"b","k":"d","c":150,"x":0.621,"y":349},{"p":"b","k":"d","c":150,"x":0.625,"y":359},
{"p":"b","k":"d","c":175,"x":0.140,"y":243},{"p":"b","k":"d","c":175,"x":0.167,"y":249},{"p":"b","k":"d","c":175,"x":0.192,"y":254},{"p":"b","k":"d","c":175,"x":0.216,"y":260},{"p":"b","k":"d","c":175,"x":0.229,"y":260},{"p":"b","k":"d","c":175,"x":0.243,"y":262},{"p":"b","k":"d","c":175,"x":0.264,"y":268},{"p":"b","k":"d","c":175,"x":0.278,"y":273},{"p":"b","k":"d","c":175,"x":0.295,"y":278},{"p":"b","k":"d","c":175,"x":0.311,"y":284},{"p":"b","k":"d","c":175,"x":0.330,"y":290},{"p":"b","k":"d","c":175,"x":0.353,"y":295},{"p":"b","k":"d","c":175,"x":0.363,"y":294},{"p":"b","k":"d","c":175,"x":0.377,"y":292},{"p":"b","k":"d","c":175,"x":0.388,"y":292},{"p":"b","k":"d","c":175,"x":0.404,"y":291},{"p":"b","k":"d","c":175,"x":0.419,"y":292},{"p":"b","k":"d","c":175,"x":0.429,"y":293},{"p":"b","k":"d","c":175,"x":0.445,"y":292},{"p":"b","k":"d","c":175,"x":0.458,"y":290},{"p":"b","k":"d","c":175,"x":0.470,"y":289},{"p":"b","k":"d","c":175,"x":0.487,"y":288},{"p":"b","k":"d","c":175,"x":0.507,"y":290},{"p":"b","k":"d","c":175,"x":0.528,"y":292},{"p":"b","k":"d","c":175,"x":0.548,"y":293},{"p":"b","k":"d","c":175,"x":0.569,"y":295},{"p":"b","k":"d","c":175,"x":0.590,"y":296},{"p":"b","k":"d","c":175,"x":0.610,"y":296},{"p":"b","k":"d","c":175,"x":0.621,"y":304},{"p":"b","k":"d","c":175,"x":0.629,"y":324},{"p":"b","k":"d","c":175,"x":0.635,"y":339},{"p":"b","k":"d","c":175,"x":0.637,"y":344},
{"p":"b","k":"d","c":200,"x":0.146,"y":245},{"p":"b","k":"d","c":200,"x":0.173,"y":248},{"p":"b","k":"d","c":200,"x":0.202,"y":252},{"p":"b","k":"d","c":200,"x":0.229,"y":255},{"p":"b","k":"d","c":200,"x":0.249,"y":257},{"p":"b","k":"d","c":200,"x":0.270,"y":261},{"p":"b","k":"d","c":200,"x":0.291,"y":267},{"p":"b","k":"d","c":200,"x":0.311,"y":275},{"p":"b","k":"d","c":200,"x":0.332,"y":284},{"p":"b","k":"d","c":200,"x":0.353,"y":288},{"p":"b","k":"d","c":200,"x":0.367,"y":291},{"p":"b","k":"d","c":200,"x":0.384,"y":291},{"p":"b","k":"d","c":200,"x":0.402,"y":291},{"p":"b","k":"d","c":200,"x":0.419,"y":292},{"p":"b","k":"d","c":200,"x":0.435,"y":294},{"p":"b","k":"d","c":200,"x":0.454,"y":295},{"p":"b","k":"d","c":200,"x":0.470,"y":296},{"p":"b","k":"d","c":200,"x":0.487,"y":294},{"p":"b","k":"d","c":200,"x":0.507,"y":295},{"p":"b","k":"d","c":200,"x":0.528,"y":298},{"p":"b","k":"d","c":200,"x":0.548,"y":300},{"p":"b","k":"d","c":200,"x":0.569,"y":298},{"p":"b","k":"d","c":200,"x":0.590,"y":296},{"p":"b","k":"d","c":200,"x":0.610,"y":296},{"p":"b","k":"d","c":200,"x":0.631,"y":296},{"p":"b","k":"d","c":200,"x":0.641,"y":299},{"p":"b","k":"d","c":200,"x":0.647,"y":309},{"p":"b","k":"d","c":200,"x":0.652,"y":322},{"p":"b","k":"d","c":200,"x":0.654,"y":329},
{"p":"b","k":"d","c":225,"x":0.161,"y":243},{"p":"b","k":"d","c":225,"x":0.188,"y":247},{"p":"b","k":"d","c":225,"x":0.216,"y":251},{"p":"b","k":"d","c":225,"x":0.243,"y":256},{"p":"b","k":"d","c":225,"x":0.270,"y":261},{"p":"b","k":"d","c":225,"x":0.299,"y":267},{"p":"b","k":"d","c":225,"x":0.326,"y":274},{"p":"b","k":"d","c":225,"x":0.346,"y":281},{"p":"b","k":"d","c":225,"x":0.367,"y":287},{"p":"b","k":"d","c":225,"x":0.381,"y":291},{"p":"b","k":"d","c":225,"x":0.408,"y":292},{"p":"b","k":"d","c":225,"x":0.435,"y":292},{"p":"b","k":"d","c":225,"x":0.454,"y":296},{"p":"b","k":"d","c":225,"x":0.470,"y":299},{"p":"b","k":"d","c":225,"x":0.480,"y":296},{"p":"b","k":"d","c":225,"x":0.491,"y":294},{"p":"b","k":"d","c":225,"x":0.505,"y":297},{"p":"b","k":"d","c":225,"x":0.518,"y":301},{"p":"b","k":"d","c":225,"x":0.538,"y":302},{"p":"b","k":"d","c":225,"x":0.559,"y":304},{"p":"b","k":"d","c":225,"x":0.573,"y":299},{"p":"b","k":"d","c":225,"x":0.594,"y":297},{"p":"b","k":"d","c":225,"x":0.614,"y":297},{"p":"b","k":"d","c":225,"x":0.629,"y":297},{"p":"b","k":"d","c":225,"x":0.645,"y":296},{"p":"b","k":"d","c":225,"x":0.656,"y":297},{"p":"b","k":"d","c":225,"x":0.664,"y":300},{"p":"b","k":"d","c":225,"x":0.670,"y":306},{"p":"b","k":"d","c":225,"x":0.676,"y":313},{"p":"b","k":"d","c":225,"x":0.680,"y":319},
{"p":"b","k":"l","c":50,"x":0.010,"y":57},{"p":"b","k":"l","c":50,"x":0.014,"y":104},{"p":"b","k":"l","c":50,"x":0.019,"y":144},{"p":"b","k":"l","c":50,"x":0.021,"y":164},{"p":"b","k":"l","c":50,"x":0.027,"y":179},{"p":"b","k":"l","c":50,"x":0.033,"y":185},{"p":"b","k":"l","c":50,"x":0.039,"y":182},{"p":"b","k":"l","c":50,"x":0.047,"y":172},{"p":"b","k":"l","c":50,"x":0.058,"y":167},{"p":"b","k":"l","c":50,"x":0.070,"y":172},{"p":"b","k":"l","c":50,"x":0.085,"y":179},{"p":"b","k":"l","c":50,"x":0.103,"y":184},{"p":"b","k":"l","c":50,"x":0.120,"y":185},{"p":"b","k":"l","c":50,"x":0.134,"y":184},{"p":"b","k":"l","c":50,"x":0.148,"y":181},{"p":"b","k":"l","c":50,"x":0.161,"y":177},{"p":"b","k":"l","c":50,"x":0.175,"y":169},{"p":"b","k":"l","c":50,"x":0.188,"y":161},{"p":"b","k":"l","c":50,"x":0.202,"y":154},{"p":"b","k":"l","c":50,"x":0.214,"y":148},{"p":"b","k":"l","c":50,"x":0.225,"y":146},{"p":"b","k":"l","c":50,"x":0.235,"y":152},{"p":"b","k":"l","c":50,"x":0.243,"y":166},{"p":"b","k":"l","c":50,"x":0.254,"y":184},{"p":"b","k":"l","c":50,"x":0.264,"y":199},{"p":"b","k":"l","c":50,"x":0.274,"y":212},{"p":"b","k":"l","c":50,"x":0.285,"y":221},{"p":"b","k":"l","c":50,"x":0.299,"y":225},{"p":"b","k":"l","c":50,"x":0.315,"y":227},{"p":"b","k":"l","c":50,"x":0.346,"y":231},{"p":"b","k":"l","c":50,"x":0.381,"y":234},{"p":"b","k":"l","c":50,"x":0.449,"y":238},{"p":"b","k":"l","c":50,"x":0.511,"y":241},
{"p":"b","k":"l","c":75,"x":0.012,"y":69},{"p":"b","k":"l","c":75,"x":0.016,"y":114},{"p":"b","k":"l","c":75,"x":0.021,"y":154},{"p":"b","k":"l","c":75,"x":0.027,"y":171},{"p":"b","k":"l","c":75,"x":0.035,"y":178},{"p":"b","k":"l","c":75,"x":0.041,"y":176},{"p":"b","k":"l","c":75,"x":0.049,"y":169},{"p":"b","k":"l","c":75,"x":0.060,"y":166},{"p":"b","k":"l","c":75,"x":0.072,"y":171},{"p":"b","k":"l","c":75,"x":0.087,"y":178},{"p":"b","k":"l","c":75,"x":0.105,"y":183},{"p":"b","k":"l","c":75,"x":0.122,"y":184},{"p":"b","k":"l","c":75,"x":0.136,"y":183},{"p":"b","k":"l","c":75,"x":0.151,"y":179},{"p":"b","k":"l","c":75,"x":0.163,"y":174},{"p":"b","k":"l","c":75,"x":0.177,"y":166},{"p":"b","k":"l","c":75,"x":0.190,"y":158},{"p":"b","k":"l","c":75,"x":0.202,"y":151},{"p":"b","k":"l","c":75,"x":0.212,"y":146},{"p":"b","k":"l","c":75,"x":0.221,"y":145},{"p":"b","k":"l","c":75,"x":0.229,"y":151},{"p":"b","k":"l","c":75,"x":0.237,"y":164},{"p":"b","k":"l","c":75,"x":0.247,"y":182},{"p":"b","k":"l","c":75,"x":0.258,"y":198},{"p":"b","k":"l","c":75,"x":0.268,"y":211},{"p":"b","k":"l","c":75,"x":0.280,"y":220},{"p":"b","k":"l","c":75,"x":0.297,"y":225},{"p":"b","k":"l","c":75,"x":0.315,"y":227},{"p":"b","k":"l","c":75,"x":0.346,"y":231},{"p":"b","k":"l","c":75,"x":0.381,"y":234},{"p":"b","k":"l","c":75,"x":0.449,"y":238},{"p":"b","k":"l","c":75,"x":0.511,"y":241},
{"p":"b","k":"l","c":100,"x":0.012,"y":79},{"p":"b","k":"l","c":100,"x":0.016,"y":114},{"p":"b","k":"l","c":100,"x":0.021,"y":144},{"p":"b","k":"l","c":100,"x":0.027,"y":164},{"p":"b","k":"l","c":100,"x":0.035,"y":171},{"p":"b","k":"l","c":100,"x":0.041,"y":169},{"p":"b","k":"l","c":100,"x":0.049,"y":164},{"p":"b","k":"l","c":100,"x":0.060,"y":162},{"p":"b","k":"l","c":100,"x":0.072,"y":168},{"p":"b","k":"l","c":100,"x":0.087,"y":176},{"p":"b","k":"l","c":100,"x":0.103,"y":181},{"p":"b","k":"l","c":100,"x":0.120,"y":182},{"p":"b","k":"l","c":100,"x":0.134,"y":181},{"p":"b","k":"l","c":100,"x":0.148,"y":177},{"p":"b","k":"l","c":100,"x":0.161,"y":172},{"p":"b","k":"l","c":100,"x":0.175,"y":164},{"p":"b","k":"l","c":100,"x":0.188,"y":155},{"p":"b","k":"l","c":100,"x":0.198,"y":149},{"p":"b","k":"l","c":100,"x":0.208,"y":144},{"p":"b","k":"l","c":100,"x":0.216,"y":144},{"p":"b","k":"l","c":100,"x":0.225,"y":150},{"p":"b","k":"l","c":100,"x":0.233,"y":164},{"p":"b","k":"l","c":100,"x":0.243,"y":182},{"p":"b","k":"l","c":100,"x":0.254,"y":198},{"p":"b","k":"l","c":100,"x":0.264,"y":211},{"p":"b","k":"l","c":100,"x":0.276,"y":220},{"p":"b","k":"l","c":100,"x":0.295,"y":225},{"p":"b","k":"l","c":100,"x":0.315,"y":228},{"p":"b","k":"l","c":100,"x":0.346,"y":231},{"p":"b","k":"l","c":100,"x":0.381,"y":234},{"p":"b","k":"l","c":100,"x":0.449,"y":238},{"p":"b","k":"l","c":100,"x":0.511,"y":241},
{"p":"b","k":"l","c":125,"x":0.012,"y":74},{"p":"b","k":"l","c":125,"x":0.016,"y":109},{"p":"b","k":"l","c":125,"x":0.021,"y":139},{"p":"b","k":"l","c":125,"x":0.027,"y":156},{"p":"b","k":"l","c":125,"x":0.037,"y":163},{"p":"b","k":"l","c":125,"x":0.043,"y":162},{"p":"b","k":"l","c":125,"x":0.052,"y":158},{"p":"b","k":"l","c":125,"x":0.062,"y":158},{"p":"b","k":"l","c":125,"x":0.074,"y":165},{"p":"b","k":"l","c":125,"x":0.089,"y":174},{"p":"b","k":"l","c":125,"x":0.103,"y":179},{"p":"b","k":"l","c":125,"x":0.118,"y":180},{"p":"b","k":"l","c":125,"x":0.132,"y":178},{"p":"b","k":"l","c":125,"x":0.146,"y":174},{"p":"b","k":"l","c":125,"x":0.159,"y":168},{"p":"b","k":"l","c":125,"x":0.171,"y":160},{"p":"b","k":"l","c":125,"x":0.184,"y":151},{"p":"b","k":"l","c":125,"x":0.194,"y":145},{"p":"b","k":"l","c":125,"x":0.204,"y":141},{"p":"b","k":"l","c":125,"x":0.212,"y":142},{"p":"b","k":"l","c":125,"x":0.221,"y":149},{"p":"b","k":"l","c":125,"x":0.229,"y":164},{"p":"b","k":"l","c":125,"x":0.239,"y":182},{"p":"b","k":"l","c":125,"x":0.249,"y":198},{"p":"b","k":"l","c":125,"x":0.260,"y":211},{"p":"b","k":"l","c":125,"x":0.274,"y":220},{"p":"b","k":"l","c":125,"x":0.293,"y":226},{"p":"b","k":"l","c":125,"x":0.315,"y":228},{"p":"b","k":"l","c":125,"x":0.346,"y":231},{"p":"b","k":"l","c":125,"x":0.381,"y":234},{"p":"b","k":"l","c":125,"x":0.449,"y":238},{"p":"b","k":"l","c":125,"x":0.511,"y":241},
{"p":"b","k":"l","c":150,"x":0.014,"y":64},{"p":"b","k":"l","c":150,"x":0.016,"y":99},{"p":"b","k":"l","c":150,"x":0.021,"y":134},{"p":"b","k":"l","c":150,"x":0.029,"y":149},{"p":"b","k":"l","c":150,"x":0.039,"y":155},{"p":"b","k":"l","c":150,"x":0.045,"y":154},{"p":"b","k":"l","c":150,"x":0.054,"y":153},{"p":"b","k":"l","c":150,"x":0.064,"y":155},{"p":"b","k":"l","c":150,"x":0.076,"y":163},{"p":"b","k":"l","c":150,"x":0.089,"y":171},{"p":"b","k":"l","c":150,"x":0.101,"y":176},{"p":"b","k":"l","c":150,"x":0.115,"y":177},{"p":"b","k":"l","c":150,"x":0.130,"y":175},{"p":"b","k":"l","c":150,"x":0.144,"y":170},{"p":"b","k":"l","c":150,"x":0.157,"y":163},{"p":"b","k":"l","c":150,"x":0.169,"y":154},{"p":"b","k":"l","c":150,"x":0.179,"y":146},{"p":"b","k":"l","c":150,"x":0.190,"y":141},{"p":"b","k":"l","c":150,"x":0.198,"y":139},{"p":"b","k":"l","c":150,"x":0.206,"y":141},{"p":"b","k":"l","c":150,"x":0.214,"y":149},{"p":"b","k":"l","c":150,"x":0.225,"y":166},{"p":"b","k":"l","c":150,"x":0.235,"y":184},{"p":"b","k":"l","c":150,"x":0.245,"y":199},{"p":"b","k":"l","c":150,"x":0.258,"y":212},{"p":"b","k":"l","c":150,"x":0.272,"y":220},{"p":"b","k":"l","c":150,"x":0.291,"y":226},{"p":"b","k":"l","c":150,"x":0.315,"y":228},{"p":"b","k":"l","c":150,"x":0.346,"y":231},{"p":"b","k":"l","c":150,"x":0.381,"y":234},{"p":"b","k":"l","c":150,"x":0.449,"y":238},{"p":"b","k":"l","c":150,"x":0.511,"y":241},
{"p":"b","k":"l","c":175,"x":0.014,"y":54},{"p":"b","k":"l","c":175,"x":0.016,"y":94},{"p":"b","k":"l","c":175,"x":0.021,"y":129},{"p":"b","k":"l","c":175,"x":0.029,"y":142},{"p":"b","k":"l","c":175,"x":0.039,"y":148},{"p":"b","k":"l","c":175,"x":0.047,"y":148},{"p":"b","k":"l","c":175,"x":0.056,"y":150},{"p":"b","k":"l","c":175,"x":0.066,"y":155},{"p":"b","k":"l","c":175,"x":0.078,"y":163},{"p":"b","k":"l","c":175,"x":0.091,"y":169},{"p":"b","k":"l","c":175,"x":0.103,"y":172},{"p":"b","k":"l","c":175,"x":0.118,"y":172},{"p":"b","k":"l","c":175,"x":0.132,"y":169},{"p":"b","k":"l","c":175,"x":0.146,"y":162},{"p":"b","k":"l","c":175,"x":0.159,"y":153},{"p":"b","k":"l","c":175,"x":0.169,"y":145},{"p":"b","k":"l","c":175,"x":0.179,"y":139},{"p":"b","k":"l","c":175,"x":0.188,"y":137},{"p":"b","k":"l","c":175,"x":0.196,"y":140},{"p":"b","k":"l","c":175,"x":0.204,"y":150},{"p":"b","k":"l","c":175,"x":0.214,"y":168},{"p":"b","k":"l","c":175,"x":0.225,"y":186},{"p":"b","k":"l","c":175,"x":0.235,"y":199},{"p":"b","k":"l","c":175,"x":0.249,"y":212},{"p":"b","k":"l","c":175,"x":0.266,"y":220},{"p":"b","k":"l","c":175,"x":0.287,"y":226},{"p":"b","k":"l","c":175,"x":0.315,"y":229},{"p":"b","k":"l","c":175,"x":0.346,"y":231},{"p":"b","k":"l","c":175,"x":0.381,"y":234},{"p":"b","k":"l","c":175,"x":0.449,"y":238},{"p":"b","k":"l","c":175,"x":0.511,"y":241},
{"p":"b","k":"l","c":200,"x":0.016,"y":34},{"p":"b","k":"l","c":200,"x":0.016,"y":84},{"p":"b","k":"l","c":200,"x":0.021,"y":124},{"p":"b","k":"l","c":200,"x":0.029,"y":136},{"p":"b","k":"l","c":200,"x":0.037,"y":141},{"p":"b","k":"l","c":200,"x":0.045,"y":146},{"p":"b","k":"l","c":200,"x":0.056,"y":154},{"p":"b","k":"l","c":200,"x":0.068,"y":162},{"p":"b","k":"l","c":200,"x":0.080,"y":168},{"p":"b","k":"l","c":200,"x":0.093,"y":171},{"p":"b","k":"l","c":200,"x":0.105,"y":171},{"p":"b","k":"l","c":200,"x":0.120,"y":169},{"p":"b","k":"l","c":200,"x":0.134,"y":163},{"p":"b","k":"l","c":200,"x":0.146,"y":154},{"p":"b","k":"l","c":200,"x":0.159,"y":145},{"p":"b","k":"l","c":200,"x":0.169,"y":139},{"p":"b","k":"l","c":200,"x":0.177,"y":137},{"p":"b","k":"l","c":200,"x":0.186,"y":141},{"p":"b","k":"l","c":200,"x":0.194,"y":152},{"p":"b","k":"l","c":200,"x":0.204,"y":170},{"p":"b","k":"l","c":200,"x":0.214,"y":187},{"p":"b","k":"l","c":200,"x":0.225,"y":199},{"p":"b","k":"l","c":200,"x":0.239,"y":212},{"p":"b","k":"l","c":200,"x":0.256,"y":220},{"p":"b","k":"l","c":200,"x":0.280,"y":226},{"p":"b","k":"l","c":200,"x":0.315,"y":230},{"p":"b","k":"l","c":200,"x":0.357,"y":233},{"p":"b","k":"l","c":200,"x":0.449,"y":238},{"p":"b","k":"l","c":200,"x":0.511,"y":241},
{"p":"b","k":"l","c":225,"x":0.016,"y":0},{"p":"b","k":"l","c":225,"x":0.016,"y":44},{"p":"b","k":"l","c":225,"x":0.019,"y":84},{"p":"b","k":"l","c":225,"x":0.021,"y":121},{"p":"b","k":"l","c":225,"x":0.027,"y":126},{"p":"b","k":"l","c":225,"x":0.031,"y":127},{"p":"b","k":"l","c":225,"x":0.037,"y":136},{"p":"b","k":"l","c":225,"x":0.043,"y":147},{"p":"b","k":"l","c":225,"x":0.058,"y":158},{"p":"b","k":"l","c":225,"x":0.078,"y":167},{"p":"b","k":"l","c":225,"x":0.091,"y":170},{"p":"b","k":"l","c":225,"x":0.103,"y":171},{"p":"b","k":"l","c":225,"x":0.120,"y":168},{"p":"b","k":"l","c":225,"x":0.134,"y":161},{"p":"b","k":"l","c":225,"x":0.148,"y":150},{"p":"b","k":"l","c":225,"x":0.161,"y":141},{"p":"b","k":"l","c":225,"x":0.169,"y":138},{"p":"b","k":"l","c":225,"x":0.175,"y":139},{"p":"b","k":"l","c":225,"x":0.184,"y":144},{"p":"b","k":"l","c":225,"x":0.192,"y":154},{"p":"b","k":"l","c":225,"x":0.202,"y":172},{"p":"b","k":"l","c":225,"x":0.210,"y":187},{"p":"b","k":"l","c":225,"x":0.216,"y":197},{"p":"b","k":"l","c":225,"x":0.229,"y":209},{"p":"b","k":"l","c":225,"x":0.243,"y":217},{"p":"b","k":"l","c":225,"x":0.264,"y":222},{"p":"b","k":"l","c":225,"x":0.295,"y":227},{"p":"b","k":"l","c":225,"x":0.332,"y":232},{"p":"b","k":"l","c":225,"x":0.388,"y":235},{"p":"b","k":"l","c":225,"x":0.449,"y":238},{"p":"b","k":"l","c":225,"x":0.511,"y":241}
],
"inset":[
{"p":"a","k":"d","x":0.094,"y":152},{"p":"a","k":"d","x":0.115,"y":153},{"p":"a","k":"d","x":0.130,"y":154},{"p":"a","k":"d","x":0.145,"y":154},{"p":"a","k":"d","x":0.156,"y":156},{"p":"a","k":"d","x":0.170,"y":155},{"p":"a","k":"d","x":0.182,"y":157},{"p":"a","k":"d","x":0.200,"y":162},{"p":"a","k":"d","x":0.219,"y":167},{"p":"a","k":"d","x":0.235,"y":174},{"p":"a","k":"d","x":0.245,"y":177},{"p":"a","k":"d","x":0.260,"y":181},{"p":"a","k":"d","x":0.271,"y":182},{"p":"a","k":"d","x":0.281,"y":184},{"p":"a","k":"d","x":0.290,"y":180},{"p":"a","k":"d","x":0.297,"y":179},{"p":"a","k":"d","x":0.310,"y":174},{"p":"a","k":"d","x":0.323,"y":172},{"p":"a","k":"d","x":0.340,"y":170},{"p":"a","k":"d","x":0.354,"y":169},
{"p":"a","k":"l","x":0.042,"y":117},{"p":"a","k":"l","x":0.055,"y":102},{"p":"a","k":"l","x":0.068,"y":94},{"p":"a","k":"l","x":0.078,"y":98},{"p":"a","k":"l","x":0.089,"y":104},{"p":"a","k":"l","x":0.105,"y":116},{"p":"a","k":"l","x":0.120,"y":124},{"p":"a","k":"l","x":0.135,"y":125},{"p":"a","k":"l","x":0.146,"y":124},{"p":"a","k":"l","x":0.160,"y":121},{"p":"a","k":"l","x":0.172,"y":117},{"p":"a","k":"l","x":0.182,"y":114},{"p":"a","k":"l","x":0.195,"y":106},{"p":"a","k":"l","x":0.208,"y":97},{"p":"a","k":"l","x":0.216,"y":82},{"p":"a","k":"l","x":0.224,"y":64},{"p":"a","k":"l","x":0.230,"y":40},{"p":"a","k":"l","x":0.234,"y":14},{"p":"a","k":"l","x":0.239,"y":80},{"p":"a","k":"l","x":0.245,"y":147},{"p":"a","k":"l","x":0.260,"y":151},{"p":"a","k":"l","x":0.563,"y":152},{"p":"a","k":"l","x":1.040,"y":152},
{"p":"b","k":"d","x":0.093,"y":152},{"p":"b","k":"d","x":0.105,"y":153},{"p":"b","k":"d","x":0.119,"y":153},{"p":"b","k":"d","x":0.130,"y":154},{"p":"b","k":"d","x":0.145,"y":155},{"p":"b","k":"d","x":0.155,"y":153},{"p":"b","k":"d","x":0.161,"y":154},{"p":"b","k":"d","x":0.180,"y":155},{"p":"b","k":"d","x":0.200,"y":156},{"p":"b","k":"d","x":0.223,"y":157},{"p":"b","k":"d","x":0.250,"y":160},{"p":"b","k":"d","x":0.275,"y":162},{"p":"b","k":"d","x":0.300,"y":162},{"p":"b","k":"d","x":0.326,"y":163},{"p":"b","k":"d","x":0.350,"y":164},{"p":"b","k":"d","x":0.383,"y":165},
{"p":"b","k":"l","x":0.041,"y":121},{"p":"b","k":"l","x":0.055,"y":112},{"p":"b","k":"l","x":0.067,"y":104},{"p":"b","k":"l","x":0.083,"y":87},{"p":"b","k":"l","x":0.098,"y":64},{"p":"b","k":"l","x":0.104,"y":41},{"p":"b","k":"l","x":0.109,"y":12},{"p":"b","k":"l","x":0.112,"y":60},{"p":"b","k":"l","x":0.116,"y":130},{"p":"b","k":"l","x":0.119,"y":150},{"p":"b","k":"l","x":0.124,"y":152},{"p":"b","k":"l","x":0.394,"y":152},{"p":"b","k":"l","x":1.040,"y":152}
],
"notes":[
{"p":"a","g":"big","t":"(a)","x":0.895,"y":423},
{"p":"a","g":"mid","t":"Delithiation","x":0.841,"y":311},
{"p":"a","g":"mid","t":"Lithiation","x":0.214,"y":67},
{"p":"a","g":"inset","t":"Cycle 1","x":0.766,"y":52},
{"p":"b","g":"big","t":"(b)","x":0.899,"y":419},
{"p":"b","g":"mid","t":"Delithiation","x":0.841,"y":292},
{"p":"b","g":"mid","t":"Lithiation","x":0.214,"y":74},
{"p":"b","g":"inset","t":"Cycle 1","x":0.767,"y":51}
],
"arrows":[
{"p":"a","g":"del","x":0.621,"y":445},{"p":"a","g":"del","x":0.668,"y":379},
{"p":"a","g":"lit","x":0.274,"y":176},{"p":"a","g":"lit","x":0.250,"y":181},
{"p":"b","g":"del","x":0.600,"y":447},{"p":"b","g":"del","x":0.619,"y":409},{"p":"b","g":"del","x":0.635,"y":379},{"p":"b","g":"del","x":0.652,"y":356},{"p":"b","g":"del","x":0.668,"y":339},{"p":"b","g":"del","x":0.678,"y":330},
{"p":"b","g":"lit","x":0.332,"y":184},{"p":"b","g":"lit","x":0.272,"y":194}
],
"heads":[
{"p":"a","g":"del","x":0.670,"y":375},
{"p":"a","g":"lit","x":0.247,"y":182},
{"p":"b","g":"del","x":0.680,"y":327},
{"p":"b","g":"lit","x":0.268,"y":195}
]
},
"vconcat":[
{
"width":520,"height":478,
"resolve":{"scale":{"x":"independent","y":"independent"},"axis":{"x":"independent","y":"independent"}},
"layer":[
{"data":{"name":"main"},"transform":[{"filter":"datum.p==='a'"}],
"mark":{"type":"line","strokeWidth":1.7,"strokeJoin":"round"},
"encoding":{
"x":{"field":"x","type":"quantitative","scale":{"domain":[-0.0371,1.035],"nice":false,"zero":false},"axis":{"orient":"bottom","values":[0,0.2,0.4,0.6,0.8,1],"tickSize":-6,"labels":false,"title":null}},
"y":{"field":"y","type":"quantitative","scale":{"domain":[0,478],"nice":false,"zero":false},"axis":{"orient":"left","ticks":false,"labels":false,"minExtent":0,"title":"dQ dV⁻¹ [a. u.]","titleFontSize":23,"titlePadding":20}},
"color":{"field":"c","type":"ordinal","scale":{"domain":[50,75,100,125,150,175,200,225],"range":["#b4cfe0","#8fbad6","#6aa5cc","#4a8fc0","#3578a8","#2b5f86","#25435a","#1c2833"]},
"legend":{"orient":"none","legendX":29,"legendY":16,"direction":"vertical","columns":2,"title":"Cycle","titleFontSize":23,"titleFontWeight":"normal","titleAnchor":"middle","titlePadding":6,"titleColor":"#111","labelFontSize":20,"labelColor":"#111","labelOffset":17,"symbolType":"M-2.1,0H2.1","symbolSize":400,"symbolStrokeWidth":2.5,"columnPadding":13,"rowPadding":2,"padding":0}},
"detail":{"field":"k","type":"nominal"}
}},
{"data":{"name":"notes"},"transform":[{"filter":"datum.p==='a' && datum.g==='big'"}],
"mark":{"type":"text","font":"Lato","fontWeight":"bold","fontSize":38,"align":"center","baseline":"middle","color":"#111"},
"encoding":{
"x":{"field":"x","type":"quantitative","scale":{"domain":[-0.0371,1.035],"nice":false,"zero":false},"axis":{"orient":"top","values":[0,0.2,0.4,0.6,0.8,1],"tickSize":-6,"labels":false,"title":null}},
"y":{"field":"y","type":"quantitative","scale":{"domain":[0,478],"nice":false,"zero":false},"axis":null},
"text":{"field":"t"}}},
{"data":{"name":"notes"},"transform":[{"filter":"datum.p==='a' && datum.g==='mid'"}],
"mark":{"type":"text","font":"Lato","fontWeight":"bold","fontSize":25,"align":"center","baseline":"middle","color":"#111"},
"encoding":{
"x":{"field":"x","type":"quantitative","scale":{"domain":[-0.0371,1.035],"nice":false,"zero":false},"axis":null},
"y":{"field":"y","type":"quantitative","scale":{"domain":[0,478],"nice":false,"zero":false},"axis":null},
"text":{"field":"t"}}},
{"data":{"name":"arrows"},"transform":[{"filter":"datum.p==='a'"}],
"mark":{"type":"line","strokeWidth":1.5,"color":"#222"},
"encoding":{
"x":{"field":"x","type":"quantitative","scale":{"domain":[-0.0371,1.035],"nice":false,"zero":false},"axis":null},
"y":{"field":"y","type":"quantitative","scale":{"domain":[0,478],"nice":false,"zero":false},"axis":null},
"detail":{"field":"g","type":"nominal"}}},
{"data":{"name":"heads"},"transform":[{"filter":"datum.p==='a' && datum.g==='del'"}],
"mark":{"type":"point","shape":"triangle","filled":true,"size":70,"angle":161,"color":"#222","opacity":1},
"encoding":{
"x":{"field":"x","type":"quantitative","scale":{"domain":[-0.0371,1.035],"nice":false,"zero":false},"axis":null},
"y":{"field":"y","type":"quantitative","scale":{"domain":[0,478],"nice":false,"zero":false},"axis":null}}},
{"data":{"name":"heads"},"transform":[{"filter":"datum.p==='a' && datum.g==='lit'"}],
"mark":{"type":"point","shape":"triangle","filled":true,"size":45,"angle":295,"color":"#222","opacity":1},
"encoding":{
"x":{"field":"x","type":"quantitative","scale":{"domain":[-0.0371,1.035],"nice":false,"zero":false},"axis":null},
"y":{"field":"y","type":"quantitative","scale":{"domain":[0,478],"nice":false,"zero":false},"axis":null}}},
{"data":{"name":"inset"},"transform":[{"filter":"datum.p==='a'"}],
"mark":{"type":"line","strokeWidth":1.6,"color":"#1a1a1a","strokeJoin":"round"},
"encoding":{
"x":{"field":"x","type":"quantitative","scale":{"domain":[-0.05,1.045],"range":[302,511],"nice":false,"zero":false},"axis":{"orient":"bottom","offset":-28,"values":[0,0.5,1],"format":".1f","tickSize":-5,"labelPadding":9,"labelFontSize":16,"title":null}},
"y":{"field":"y","type":"quantitative","scale":{"domain":[0,190],"range":[450,260],"nice":false,"zero":false},"axis":{"orient":"left","offset":-302,"ticks":false,"labels":false,"minExtent":0,"title":null}},
"detail":{"field":"k","type":"nominal"}}},
{"data":{"name":"notes"},"transform":[{"filter":"datum.p==='a' && datum.g==='inset'"}],
"mark":{"type":"text","font":"Liberation Sans","fontSize":18,"align":"center","baseline":"middle","color":"#111"},
"encoding":{
"x":{"field":"x","type":"quantitative","scale":{"domain":[-0.05,1.045],"range":[302,511],"nice":false,"zero":false},"axis":{"orient":"top","offset":-260,"values":[0,0.5,1],"tickSize":-5,"labels":false,"title":null}},
"y":{"field":"y","type":"quantitative","scale":{"domain":[0,190],"range":[450,260],"nice":false,"zero":false},"axis":{"orient":"right","offset":-9,"ticks":false,"labels":false,"minExtent":0,"title":null}},
"text":{"field":"t"}}}
]
},
{
"width":520,"height":480,
"resolve":{"scale":{"x":"independent","y":"independent"},"axis":{"x":"independent","y":"independent"}},
"layer":[
{"data":{"name":"main"},"transform":[{"filter":"datum.p==='b'"}],
"mark":{"type":"line","strokeWidth":1.7,"strokeJoin":"round"},
"encoding":{
"x":{"field":"x","type":"quantitative","scale":{"domain":[-0.0371,1.035],"nice":false,"zero":false},"axis":{"orient":"bottom","values":[0,0.2,0.4,0.6,0.8,1],"format":".1f","tickSize":-6,"labelPadding":10,"labelFontSize":20,"title":"Potential vs. Li⁺/Li [V]","titleFontSize":23,"titlePadding":9,"titleX":224}},
"y":{"field":"y","type":"quantitative","scale":{"domain":[0,480],"nice":false,"zero":false},"axis":{"orient":"left","ticks":false,"labels":false,"minExtent":0,"title":"dQ dV⁻¹ [a. u.]","titleFontSize":23,"titlePadding":20}},
"color":{"field":"c","type":"ordinal","scale":{"domain":[50,75,100,125,150,175,200,225],"range":["#b4cfe0","#8fbad6","#6aa5cc","#4a8fc0","#3578a8","#2b5f86","#25435a","#1c2833"]},
"legend":{"orient":"none","legendX":29,"legendY":16,"direction":"vertical","columns":2,"title":"Cycle","titleFontSize":23,"titleFontWeight":"normal","titleAnchor":"middle","titlePadding":6,"titleColor":"#111","labelFontSize":20,"labelColor":"#111","labelOffset":17,"symbolType":"M-2.1,0H2.1","symbolSize":400,"symbolStrokeWidth":2.5,"columnPadding":13,"rowPadding":2,"padding":0}},
"detail":{"field":"k","type":"nominal"}
}},
{"data":{"name":"notes"},"transform":[{"filter":"datum.p==='b' && datum.g==='big'"}],
"mark":{"type":"text","font":"Lato","fontWeight":"bold","fontSize":38,"align":"center","baseline":"middle","color":"#111"},
"encoding":{
"x":{"field":"x","type":"quantitative","scale":{"domain":[-0.0371,1.035],"nice":false,"zero":false},"axis":{"orient":"top","values":[0,0.2,0.4,0.6,0.8,1],"tickSize":-6,"labels":false,"title":null}},
"y":{"field":"y","type":"quantitative","scale":{"domain":[0,480],"nice":false,"zero":false},"axis":null},
"text":{"field":"t"}}},
{"data":{"name":"notes"},"transform":[{"filter":"datum.p==='b' && datum.g==='mid'"}],
"mark":{"type":"text","font":"Lato","fontWeight":"bold","fontSize":25,"align":"center","baseline":"middle","color":"#111"},
"encoding":{
"x":{"field":"x","type":"quantitative","scale":{"domain":[-0.0371,1.035],"nice":false,"zero":false},"axis":null},
"y":{"field":"y","type":"quantitative","scale":{"domain":[0,480],"nice":false,"zero":false},"axis":null},
"text":{"field":"t"}}},
{"data":{"name":"arrows"},"transform":[{"filter":"datum.p==='b'"}],
"mark":{"type":"line","strokeWidth":1.5,"color":"#222","interpolate":"monotone"},
"encoding":{
"x":{"field":"x","type":"quantitative","scale":{"domain":[-0.0371,1.035],"nice":false,"zero":false},"axis":null},
"y":{"field":"y","type":"quantitative","scale":{"domain":[0,480],"nice":false,"zero":false},"axis":null},
"detail":{"field":"g","type":"nominal"}}},
{"data":{"name":"heads"},"transform":[{"filter":"datum.p==='b' && datum.g==='del'"}],
"mark":{"type":"point","shape":"triangle","filled":true,"size":70,"angle":153,"color":"#222","opacity":1},
"encoding":{
"x":{"field":"x","type":"quantitative","scale":{"domain":[-0.0371,1.035],"nice":false,"zero":false},"axis":null},
"y":{"field":"y","type":"quantitative","scale":{"domain":[0,480],"nice":false,"zero":false},"axis":null}}},
{"data":{"name":"heads"},"transform":[{"filter":"datum.p==='b' && datum.g==='lit'"}],
"mark":{"type":"point","shape":"triangle","filled":true,"size":60,"angle":290,"color":"#222","opacity":1},
"encoding":{
"x":{"field":"x","type":"quantitative","scale":{"domain":[-0.0371,1.035],"nice":false,"zero":false},"axis":null},
"y":{"field":"y","type":"quantitative","scale":{"domain":[0,480],"nice":false,"zero":false},"axis":null}}},
{"data":{"name":"inset"},"transform":[{"filter":"datum.p==='b'"}],
"mark":{"type":"line","strokeWidth":1.6,"color":"#1a1a1a","strokeJoin":"round"},
"encoding":{
"x":{"field":"x","type":"quantitative","scale":{"domain":[-0.05,1.045],"range":[302,511],"nice":false,"zero":false},"axis":{"orient":"bottom","offset":-30,"values":[0,0.5,1],"format":".1f","tickSize":-5,"labelPadding":9,"labelFontSize":16,"title":null}},
"y":{"field":"y","type":"quantitative","scale":{"domain":[0,190],"range":[450,260],"nice":false,"zero":false},"axis":{"orient":"left","offset":-302,"ticks":false,"labels":false,"minExtent":0,"title":null}},
"detail":{"field":"k","type":"nominal"}}},
{"data":{"name":"notes"},"transform":[{"filter":"datum.p==='b' && datum.g==='inset'"}],
"mark":{"type":"text","font":"Liberation Sans","fontSize":18,"align":"center","baseline":"middle","color":"#111"},
"encoding":{
"x":{"field":"x","type":"quantitative","scale":{"domain":[-0.05,1.045],"range":[302,511],"nice":false,"zero":false},"axis":{"orient":"top","offset":-260,"values":[0,0.5,1],"tickSize":-5,"labels":false,"title":null}},
"y":{"field":"y","type":"quantitative","scale":{"domain":[0,190],"range":[450,260],"nice":false,"zero":false},"axis":{"orient":"right","offset":-9,"ticks":false,"labels":false,"minExtent":0,"title":null}},
"text":{"field":"t"}}}
]
}
],
"spacing":12,
"bounds":"flush",
"resolve":{"scale":{"x":"independent","y":"independent","color":"independent"},"axis":{"x":"independent","y":"independent"},"legend":{"color":"independent"}}
}
